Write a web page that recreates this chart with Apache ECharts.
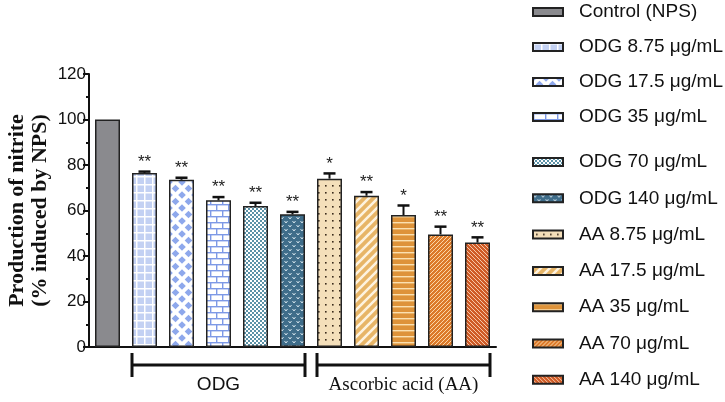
<!DOCTYPE html>
<html><head><meta charset="utf-8">
<script src="https://cdn.jsdelivr.net/npm/echarts@6/dist/echarts.min.js"></script>
<style>html,body{margin:0;padding:0;background:#fff}#c{width:725px;height:402px}</style>
</head><body><div id="c"></div>
<script>
const categories = ['Control (NPS)','ODG 8.75 μg/mL','ODG 17.5 μg/mL','ODG 35 μg/mL','ODG 70 μg/mL','ODG 140 μg/mL','AA 8.75 μg/mL','AA 17.5 μg/mL','AA 35 μg/mL','AA 70 μg/mL','AA 140 μg/mL'];
const values = [100, 76.5, 73.5, 64.5, 62.0, 58.3, 74.0, 66.5, 58.0, 49.5, 45.9];
const errors = [0, 0.6, 0.9, 1.4, 1.4, 1.1, 2.3, 1.6, 4.2, 3.4, 2.3];
const stars = ['', '**', '**', '**', '**', '**', '*', '**', '*', '**', '**'];
const groupStart = [1, 6];
const groupEnd = [5, 10];
const groupNames = ['ODG', 'Ascorbic acid (AA)'];
const yTicks = [0, 20, 40, 60, 80, 100, 120];
const legendTop = categories.slice(0, 4);
const legendBottom = categories.slice(4);

function pat(w, h, bg, draw) {
  const c = document.createElement('canvas'); c.width = w; c.height = h;
  const g = c.getContext('2d'); g.fillStyle = bg; g.fillRect(0, 0, w, h);
  if (draw) draw(g, w, h);
  return { image: c, repeat: 'repeat' };
}
function stripes(s, bg, fg, lw, back) {
  return pat(s, s, bg, g => {
    g.strokeStyle = fg; g.lineWidth = lw; g.beginPath();
    if (!back) {
      g.moveTo(-1, 1); g.lineTo(1, -1);
      g.moveTo(0, s); g.lineTo(s, 0);
      g.moveTo(s - 1, s + 1); g.lineTo(s + 1, s - 1);
    } else {
      g.moveTo(-1, s - 1); g.lineTo(1, s + 1);
      g.moveTo(0, 0); g.lineTo(s, s);
      g.moveTo(s - 1, -1); g.lineTo(s + 1, 1);
    }
    g.stroke();
  });
}
const fills = [
  '#8a8a8e',
  pat(8, 8, '#c3d1f3', g => { g.fillStyle = '#fff'; g.fillRect(0, 0, 8, 1.5); g.fillRect(0, 0, 1.5, 8); }),
  pat(13, 13, '#ffffff', g => {
    g.fillStyle = '#8ea8ec';
    [[0,0],[13,0],[0,13],[13,13],[6.5,6.5]].forEach(p => { g.beginPath(); g.moveTo(p[0], p[1]-3.8); g.lineTo(p[0]+3.8, p[1]); g.lineTo(p[0], p[1]+3.8); g.lineTo(p[0]-3.8, p[1]); g.closePath(); g.fill(); });
  }),
  pat(12, 12, '#ffffff', g => {
    g.fillStyle = '#7d99e6';
    g.fillRect(0, 0, 12, 1.4); g.fillRect(0, 6, 12, 1.4);
    g.fillRect(0, 0, 1.4, 6); g.fillRect(6, 6, 1.4, 6);
  }),
  pat(4, 4, '#ffffff', g => { g.fillStyle = '#5b92a7'; g.fillRect(0, 0, 2, 2); g.fillRect(2, 2, 2, 2); }),
  pat(8, 8, '#3f6d8a', g => {
    g.strokeStyle = '#d4e3ec'; g.lineWidth = 1; g.beginPath();
    g.moveTo(0.5, 1); g.lineTo(2, 3); g.lineTo(3.5, 1);
    g.moveTo(4.5, 5); g.lineTo(6, 7); g.lineTo(7.5, 5);
    g.stroke();
  }),
  pat(7, 7, '#f4dfba', g => { g.fillStyle = '#3a2c1c'; g.fillRect(3, 3, 1.6, 1.6); }),
  stripes(9, '#e7b567', '#fdf3e0', 2.6, false),
  pat(6, 6, '#de933a', g => { g.fillStyle = '#fbe0b0'; g.fillRect(0, 0, 6, 1.4); }),
  stripes(4, '#dc7a2a', '#fbd7a8', 1, false),
  stripes(4, '#cf5b26', '#f7c7a8', 1, true)
];

const barSeries = categories.map((name, i) => ({
  name: name, type: 'bar', stack: 'all', barWidth: 25,
  data: categories.map((c, j) => j === i ? values[i] : '-'),
  itemStyle: { color: fills[i], borderColor: '#222', borderWidth: 1.5 },
  z: 2
}));

const errSeries = {
  type: 'custom', name: 'err', z: 5, silent: true,
  data: values.map((v, i) => [i, v, errors[i]]),
  encode: { x: 0, y: 1 },
  renderItem: (params, api) => {
    const i = api.value(0), v = api.value(1), e = api.value(2);
    const s = stars[i];
    const base = api.coord([i, v]);
    const top = api.coord([i, v + e]);
    const children = [];
    if (e > 0) {
      children.push({ type: 'line', shape: { x1: base[0], y1: base[1], x2: top[0], y2: top[1] }, style: { stroke: '#111', lineWidth: 2 } });
      children.push({ type: 'line', shape: { x1: top[0] - 6, y1: top[1], x2: top[0] + 6, y2: top[1] }, style: { stroke: '#111', lineWidth: 2.5 } });
    }
    if (s) children.push({ type: 'text', style: { text: s, x: top[0], y: top[1] - 1, align: 'center', verticalAlign: 'bottom', font: '17px "Liberation Sans", Arial', fill: '#222' } });
    return { type: 'group', children: children };
  }
};

const bracketSeries = {
  type: 'custom', name: 'bracket', z: 5, silent: true, clip: false,
  data: groupStart.map((s, k) => [s, groupEnd[k], 0, k]),
  encode: { x: [0, 1], y: 2 },
  renderItem: (params, api) => {
    const k = api.value(3);
    const a = api.coord([api.value(0), 0]);
    const b = api.coord([api.value(1), 0]);
    const x1 = a[0] - 12.5, x2 = b[0] + 12.5, y = a[1] + 18;
    const st = { stroke: '#111', lineWidth: 3 };
    return { type: 'group', children: [
      { type: 'line', shape: { x1: x1, y1: y, x2: x2, y2: y }, style: st },
      { type: 'line', shape: { x1: x1, y1: y - 12, x2: x1, y2: y + 12 }, style: st },
      { type: 'line', shape: { x1: x2, y1: y - 12, x2: x2, y2: y + 12 }, style: st },
      { type: 'text', style: { text: groupNames[k], x: (x1 + x2) / 2, y: y + 20, align: 'center', verticalAlign: 'middle',
        font: k === 0 ? '19px "Liberation Sans", Arial' : '19px "Liberation Serif", "Times New Roman"', fill: '#111' } }
    ] };
  }
};

const legendBase = {
  orient: 'vertical', left: 532, padding: 0,
  itemWidth: 30, itemHeight: 8, icon: 'rect', selectedMode: false,
  textStyle: { fontFamily: '"Liberation Sans", Arial', fontSize: 19, color: '#111', lineHeight: 20, padding: [0, 0, 0, 11] }
};

const chart = echarts.init(document.getElementById('c'), null, { renderer: 'canvas' });
chart.setOption({
  animation: false,
  backgroundColor: '#fff',
  grid: { left: 89, right: 229, top: 74, bottom: 55, containLabel: false, outerBoundsMode: 'none' },
  xAxis: {
    type: 'category', data: categories,
    axisLine: { lineStyle: { color: '#111', width: 2 } },
    axisTick: { show: false }, axisLabel: { show: false }, splitLine: { show: false }
  },
  yAxis: {
    type: 'value', min: yTicks[0], max: yTicks[yTicks.length - 1], interval: 20,
    name: 'Production of nitrite\n(% induced by NPS)', nameLocation: 'middle', nameGap: 37, nameMoveOverlap: false,
    nameTextStyle: { fontFamily: '"Liberation Serif", "Times New Roman"', fontWeight: 'bold', fontSize: 22, lineHeight: 23, color: '#111' },
    axisLine: { show: true, lineStyle: { color: '#111', width: 2 } },
    axisTick: { show: true, length: 6, lineStyle: { color: '#111', width: 2 } },
    minorTick: { show: true, splitNumber: 2, length: 3, lineStyle: { color: '#111', width: 2 } },
    axisLabel: { fontFamily: '"Liberation Sans", Arial', fontSize: 17, color: '#111', margin: 3 },
    splitLine: { show: false }
  },
  legend: [
    Object.assign({}, legendBase, { data: legendTop, top: 2, itemGap: 15 }),
    Object.assign({}, legendBase, { data: legendBottom, top: 152, itemGap: 16.3 })
  ],
  series: barSeries.concat([errSeries, bracketSeries])
});
</script></body></html>
